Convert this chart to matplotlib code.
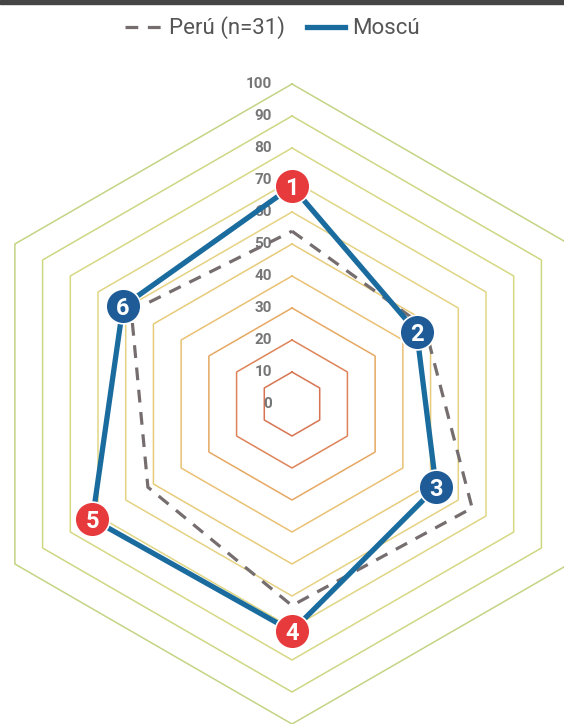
import numpy as np
import matplotlib
matplotlib.use('Agg')
import matplotlib.pyplot as plt
from matplotlib.lines import Line2D
from matplotlib.patches import Rectangle
import matplotlib.transforms as mtransforms

# datos (lectura aproximada del grafico)
ejes = ['1', '2', '3', '4', '5', '6']
peru = [54, 48, 65, 63, 52, 58]
moscu = [68, 45, 52, 71, 72, 61]
color_marcador = ['#e63a3c', '#1f5c97', '#1f5c97', '#e63a3c', '#e63a3c', '#1f5c97']

niveles = [10, 20, 30, 40, 50, 60, 70, 80, 90, 100]
etiquetas = [0, 10, 20, 30, 40, 50, 60, 70, 80, 90, 100]
color_niveles = ['#d77452', '#de8458', '#e6a862', '#eac174', '#e8cb7a',
                 '#e5d282', '#dfd684', '#d7d884', '#cdd784', '#c3d484']

theta = np.deg2rad(np.arange(len(ejes)) * 60.0)
theta_c = np.append(theta, theta[0])

plt.rcParams['font.family'] = ['Roboto', 'DejaVu Sans']

fig = plt.figure(figsize=(5.64, 7.24), dpi=100)
fig.patch.set_facecolor('white')
fig.patches.append(Rectangle((0, 1 - 4 / 724), 1, 4 / 724, transform=fig.transFigure,
                             color='#454545', zorder=10))

ax = fig.add_axes([-28 / 564, 0, 640 / 564, 640 / 724], projection='polar')
ax.set_theta_zero_location('N')
ax.set_theta_direction(-1)
ax.set_ylim(0, 100)
ax.axis('off')

# rejilla hexagonal
for nivel, c in zip(niveles, color_niveles):
    ax.plot(theta_c, [nivel] * len(theta_c), color=c, lw=1.1, zorder=1, clip_on=False)

# etiquetas de la escala
desplaza = mtransforms.ScaledTranslation(-20 / 100, 0, fig.dpi_scale_trans)
for v in etiquetas:
    ax.text(0, v, str(v), transform=ax.transData + desplaza, ha='right', va='center',
            fontsize=11, fontweight='bold', color='#767676', zorder=2)

ax.plot(theta_c, peru + peru[:1], color='#766e6e', lw=2.3, ls=(0, (4, 3)), zorder=3,
        clip_on=False)
ax.plot(theta_c, moscu + moscu[:1], color='#1a6b9e', lw=3.8, zorder=4, clip_on=False)

for t, r, c, n in zip(theta, moscu, color_marcador, ejes):
    ax.plot(t, r, 'o', ms=25, color=c, mec='white', mew=1.2, zorder=5, clip_on=False)
    ax.text(t, r, n, ha='center', va='center_baseline', fontsize=17, fontweight='bold',
            color='white', zorder=6)

handles = [Line2D([], [], color='#766e6e', lw=2.3, ls=(0, (4, 3))),
           Line2D([], [], color='#1a6b9e', lw=3.8)]
fig.legend(handles, ['Perú (n=31)', 'Moscú'], loc='center', bbox_to_anchor=(272 / 564, 1 - 28 / 724),
           ncol=2, frameon=False, fontsize=16, labelcolor='#555555', handlelength=1.7,
           handletextpad=0.3, columnspacing=1.0)

fig.savefig('out.png', dpi=100)
